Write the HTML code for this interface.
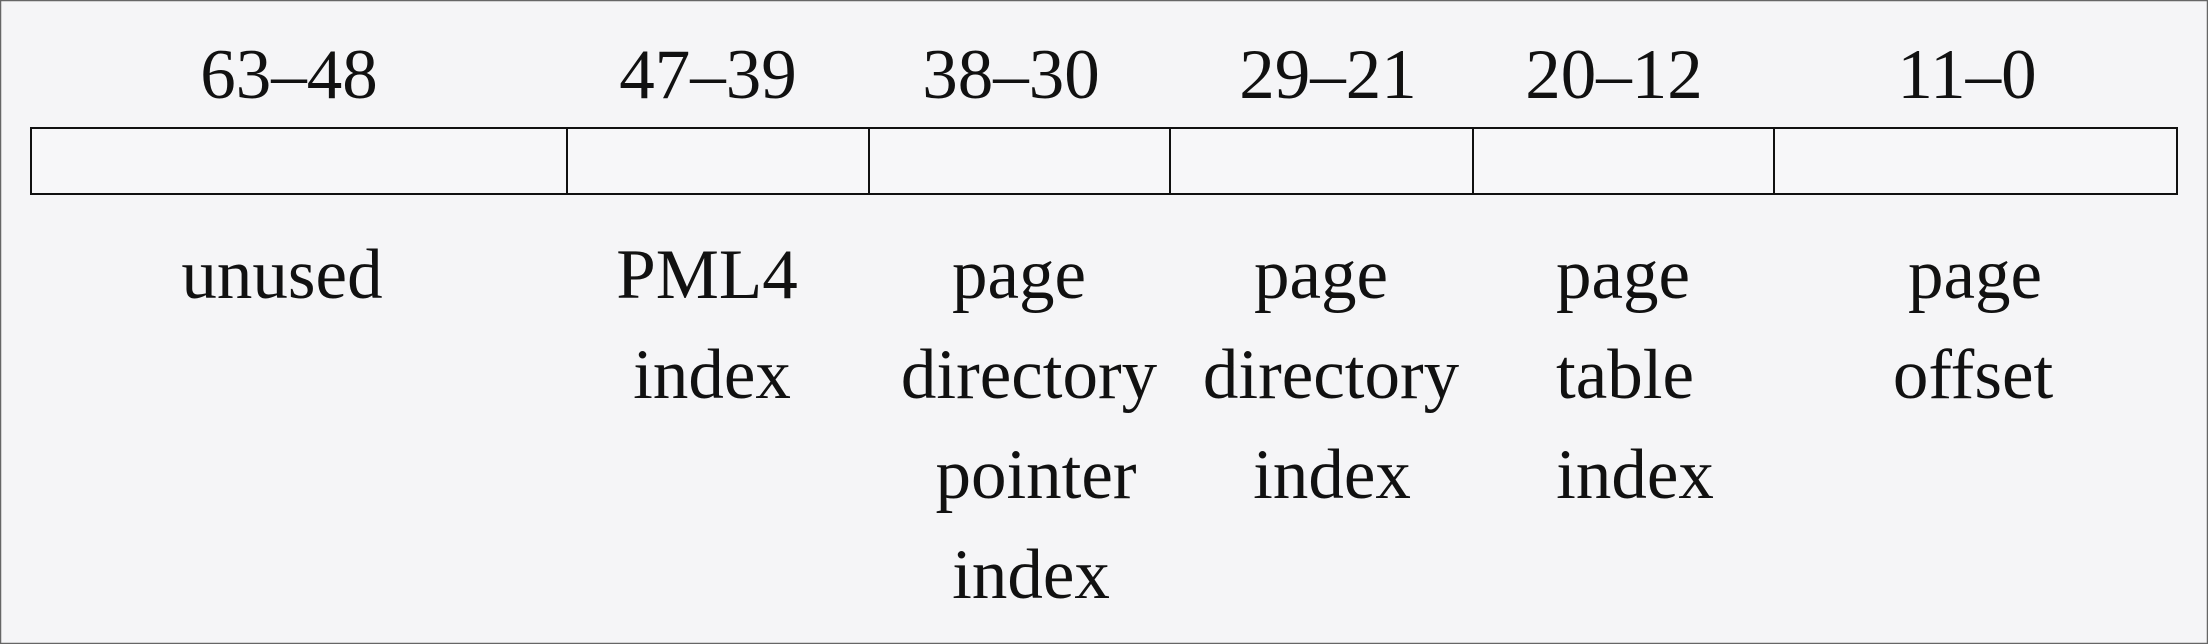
<!DOCTYPE html>
<html><head><meta charset="utf-8"><style>
html,body{margin:0;padding:0;background:#f5f5f7;}
svg{display:block;}
text{font-family:"Liberation Serif",serif;font-size:71px;fill:#111;text-anchor:middle;}
</style></head><body>
<svg width="2208" height="644" viewBox="0 0 2208 644">
<rect x="0.5" y="0.5" width="2207" height="643" fill="#f5f5f7" stroke="#666" stroke-width="1.5"/>
<rect x="31" y="128" width="2146" height="66" fill="#f7f7f9" stroke="#111" stroke-width="2"/>
<g stroke="#111" stroke-width="2">
<line x1="567" y1="128" x2="567" y2="194"/>
<line x1="869" y1="128" x2="869" y2="194"/>
<line x1="1170" y1="128" x2="1170" y2="194"/>
<line x1="1473" y1="128" x2="1473" y2="194"/>
<line x1="1774" y1="128" x2="1774" y2="194"/>
</g>
<text x="289" y="98">63–48</text>
<text x="708" y="98">47–39</text>
<text x="1011" y="98">38–30</text>
<text x="1328" y="98">29–21</text>
<text x="1614" y="98">20–12</text>
<text x="1967" y="98">11–0</text>

<text x="282" y="298">unused</text>
<text x="707" y="298">PML4</text>
<text x="712" y="398">index</text>

<text x="1019" y="298">page</text>
<text x="1029" y="398">directory</text>
<text x="1036" y="498">pointer</text>
<text x="1031" y="598">index</text>

<text x="1321" y="298">page</text>
<text x="1331" y="398">directory</text>
<text x="1332" y="498">index</text>

<text x="1623" y="298">page</text>
<text x="1625" y="398">table</text>
<text x="1635" y="498">index</text>

<text x="1975" y="298">page</text>
<text x="1973" y="398">offset</text>
</svg>
</body></html>
